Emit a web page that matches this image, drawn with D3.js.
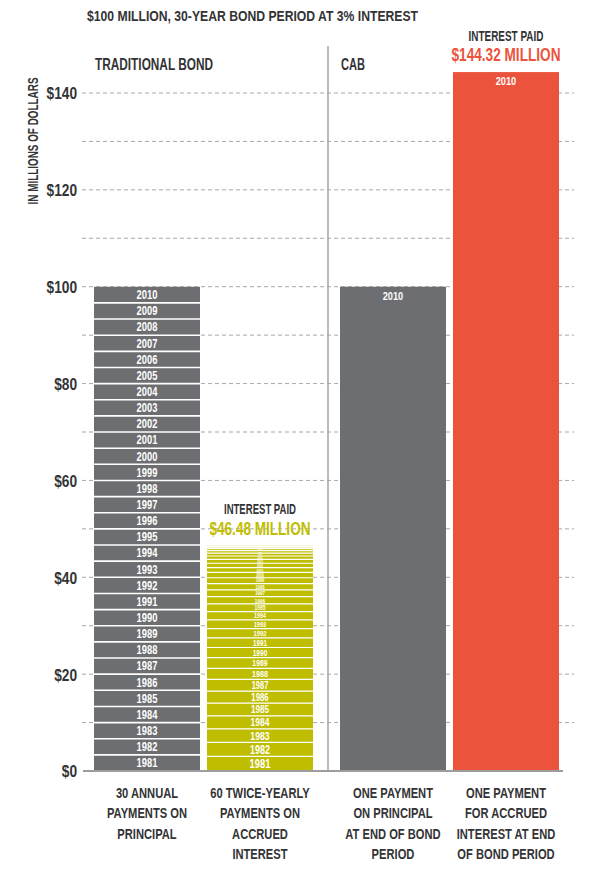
<!DOCTYPE html>
<html><head><meta charset="utf-8">
<script src="https://cdn.jsdelivr.net/npm/d3@7"></script>
<style>
html,body{margin:0;padding:0;background:#fff;}
svg{display:block;}
text{font-family:"Liberation Sans Narrow","Liberation Sans",sans-serif;font-weight:bold;}
</style></head>
<body>
<script>
// ---------- data ----------
const title = "$100 MILLION, 30-YEAR BOND PERIOD  AT 3% INTEREST";
const yAxisTitle = "IN MILLIONS OF DOLLARS";
const groups = ["TRADITIONAL BOND", "CAB"];
const barKeys = ["principal", "interest", "cabPrincipal", "cabInterest"];
const barGroup = ["TRADITIONAL BOND", "TRADITIONAL BOND", "CAB", "CAB"];
const barLabels = [
  ["30 ANNUAL", "PAYMENTS ON", "PRINCIPAL"],
  ["60 TWICE-YEARLY", "PAYMENTS ON", "ACCRUED", "INTEREST"],
  ["ONE PAYMENT", "ON PRINCIPAL", "AT END OF BOND", "PERIOD"],
  ["ONE PAYMENT", "FOR ACCRUED", "INTEREST AT END", "OF BOND PERIOD"]
];
const years = [1981,1982,1983,1984,1985,1986,1987,1988,1989,1990,1991,1992,1993,1994,1995,
               1996,1997,1998,1999,2000,2001,2002,2003,2004,2005,2006,2007,2008,2009,2010];
const principalPayments = [3.333,3.333,3.333,3.333,3.333,3.333,3.333,3.333,3.333,3.333,
                           3.333,3.333,3.333,3.333,3.333,3.333,3.333,3.333,3.333,3.333,
                           3.333,3.333,3.333,3.333,3.333,3.333,3.333,3.333,3.333,3.333];
const interestPayments = [3.0,2.9,2.8,2.7,2.6,2.5,2.4,2.3,2.2,2.1,2.0,1.9,1.8,1.7,1.6,
                          1.5,1.4,1.3,1.2,1.1,1.0,0.9,0.8,0.7,0.6,0.5,0.4,0.3,0.2,0.1];
const cabPrincipal = [100];
const cabInterest = [144.32];
const cabYears = [2010];
const interestTotals = ["$46.48 MILLION", "$144.32 MILLION"];
const yTicks = [0,20,40,60,80,100,120,140];
const yGrid = [10,20,30,40,50,60,70,80,90,100,110,120,130,140];

// ---------- style ----------
const C = {gray:"#6d6e71", yellow:"#bfbd00", red:"#eb533c", text:"#333335", grid:"#a9a9a9", axis:"#9d9d9d"};
const W = 600, H = 870;
const svg = d3.select("body").append("svg").attr("width", W).attr("height", H);

const y = d3.scaleLinear().domain([0,140]).range([771, 93]);
const xOuter = d3.scaleBand().domain(groups).range([94, 559]).paddingInner(0.1098).paddingOuter(0);
const xInner = d3.scaleBand().domain([0,1]).range([0, xOuter.bandwidth()]).paddingInner(0.062).paddingOuter(0);
const barX = i => xOuter(barGroup[i]) + xInner(barGroup.slice(0,i).filter(g=>g===barGroup[i]).length);
const bw = xInner.bandwidth();

function condense(sel, k){
  sel.each(function(){
    const L = this.getComputedTextLength();
    d3.select(this).attr("textLength", L*k).attr("lengthAdjust","spacingAndGlyphs");
  });
  return sel;
}
function fit(sel, w){
  return sel.attr("textLength", w).attr("lengthAdjust","spacingAndGlyphs");
}

// gridlines
svg.append("g").selectAll("line").data(yGrid).join("line")
  .attr("x1", 82).attr("x2", 574)
  .attr("y1", d=>y(d)).attr("y2", d=>y(d))
  .attr("stroke", C.grid).attr("stroke-width", 1).attr("stroke-dasharray","4,3");

// y-axis tick labels
const yAxis = d3.axisLeft(y).tickValues(yTicks).tickSize(0).tickPadding(0).tickFormat(d=>"$"+d);
const gy = svg.append("g").attr("transform","translate(77,0)").call(yAxis);
gy.select(".domain").remove();
gy.selectAll("text").attr("font-size",16.5).attr("fill",C.text).attr("dy","0.36em")
  .attr("font-family",'"Liberation Sans Narrow","Liberation Sans",sans-serif').attr("font-weight","bold");
condense(gy.selectAll("text"), 0.83);

// divider
svg.append("line").attr("x1",328).attr("x2",328).attr("y1",46).attr("y2",771)
  .attr("stroke","#a3a3a3").attr("stroke-width",1.5);

// stacked bar helper
function stack(i, values, labels, color, fontFn, sepW){
  const x0 = barX(i);
  let cum = 0;
  const segs = values.map((v,j)=>{ const s={y0:cum,y1:cum+v,label:labels[j]}; cum+=v; return s; });
  const g = svg.append("g");
  g.selectAll("rect").data(segs).join("rect")
    .attr("x", x0).attr("width", bw)
    .attr("y", d=>y(d.y1)).attr("height", d=>y(d.y0)-y(d.y1))
    .attr("fill", color);
  if (segs.length > 1) {
    g.selectAll("line").data(segs.slice(1)).join("line")
      .attr("x1", x0).attr("x2", x0+bw)
      .attr("y1", d=>y(d.y0)).attr("y2", d=>y(d.y0))
      .attr("stroke","#fff").attr("stroke-width", sepW);
  }
  g.selectAll("text").data(segs).join("text")
    .attr("x", x0+bw/2)
    .attr("y", d=>(y(d.y0)+y(d.y1))/2)
    .attr("dy","0.36em")
    .attr("text-anchor","middle")
    .attr("fill","#fff")
    .attr("font-size", d=>fontFn(y(d.y0)-y(d.y1)))
    .text(d=>d.label);
  return g;
}

const g1 = stack(0, principalPayments, years, C.gray, h=>12, 1.6);
condense(g1.selectAll("text"), 0.78);
const g2 = stack(1, interestPayments, years, C.yellow, h=>Math.max(2, h*0.86), 1.2);
condense(g2.selectAll("text"), 0.75);

// CAB bars (single segments, label near top)
function single(i, values, color){
  const x0 = barX(i);
  const g = svg.append("g");
  g.selectAll("rect").data(values).join("rect")
    .attr("x", x0).attr("width", bw)
    .attr("y", d=>y(d)).attr("height", d=>y(0)-y(d))
    .attr("fill", color);
  g.selectAll("text").data(cabYears).join("text")
    .attr("x", x0+bw/2).attr("y", y(values[0])+13)
    .attr("text-anchor","middle").attr("fill","#fff").attr("font-size",11.5)
    .text(d=>d);
  condense(g.selectAll("text"), 0.8);
}
single(2, cabPrincipal, C.gray);
single(3, cabInterest, C.red);

// baseline
svg.append("line").attr("x1",83).attr("x2",563).attr("y1",771).attr("y2",771)
  .attr("stroke",C.axis).attr("stroke-width",2);

// interest-paid annotations
const interestTops = [d3.sum(interestPayments), cabInterest[0]];
const ipW = [72, 75], totW = [101, 109];
[1,3].forEach((bi,k)=>{
  const cx = barX(bi)+bw/2;
  const top = y(interestTops[k]);
  const t1 = svg.append("text").attr("x",cx).attr("y",top-31.5).attr("text-anchor","middle")
    .attr("font-size",15).attr("fill",C.text).text("INTEREST PAID");
  fit(t1, ipW[k]);
  const t2 = svg.append("text").attr("x",cx).attr("y",top-11).attr("text-anchor","middle")
    .attr("font-size",19).attr("fill", k===0 ? C.yellow : C.red).text(interestTotals[k]);
  fit(t2, totW[k]);
});

// group labels
const grpW = [118, 24];
svg.selectAll("text.grp").data(groups).join("text").attr("class","grp")
  .attr("x", d=>xOuter(d)+1).attr("y", 69.5)
  .attr("font-size",16.5).attr("fill",C.text).text(d=>d)
  .each(function(d,i){ fit(d3.select(this), grpW[i]); });

// bottom category labels
barLabels.forEach((lines,i)=>{
  const cx = barX(i)+bw/2;
  const t = svg.append("g").selectAll("text").data(lines).join("text")
    .attr("x", cx).attr("y",(d,j)=>798+j*20.3)
    .attr("text-anchor","middle").attr("font-size",15.5).attr("fill",C.text).text(d=>d);
  condense(t, 0.72);
});

// title
const tt = svg.append("text").attr("x",87).attr("y",21).attr("font-size",15.5).attr("fill",C.text).text(title);
fit(tt, 331);

// y-axis title
const yt = svg.append("text").attr("transform","translate(38,141) rotate(-90)")
  .attr("text-anchor","middle").attr("font-size",14).attr("fill",C.text)
  .text(yAxisTitle);
fit(yt, 127);
</script>
</body></html>
